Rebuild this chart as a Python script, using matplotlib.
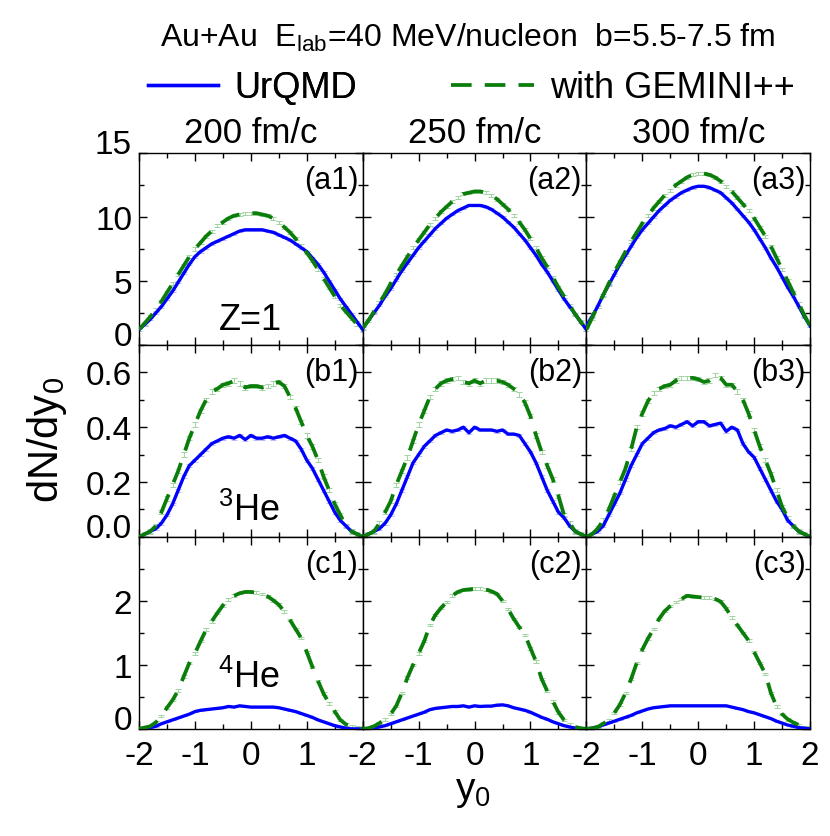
import matplotlib
matplotlib.use("Agg")
import matplotlib.pyplot as plt
from matplotlib.ticker import MultipleLocator, FixedLocator
from matplotlib.lines import Line2D

plt.rcParams['font.family'] = ['Liberation Sans', 'DejaVu Sans']
plt.rcParams['mathtext.fontset'] = 'custom'
plt.rcParams['mathtext.rm'] = 'Liberation Sans'
plt.rcParams['mathtext.it'] = 'Liberation Sans'

y0 = [-2.0, -1.9, -1.8, -1.7, -1.6, -1.5, -1.4, -1.3, -1.2, -1.1, -1.0,
      -0.9, -0.8, -0.7, -0.6, -0.5, -0.4, -0.3, -0.2, -0.1, 0.0,
      0.1, 0.2, 0.3, 0.4, 0.5, 0.6, 0.7, 0.8, 0.9, 1.0,
      1.1, 1.2, 1.3, 1.4, 1.5, 1.6, 1.7, 1.8, 1.9, 2.0]

times = ["200 fm/c", "250 fm/c", "300 fm/c"]
species = ["Z=1", "$^3$He", "$^4$He"]

# Row a: Z=1
a1_urqmd = [1.2, 1.6, 2.0, 2.5, 3.0, 3.6, 4.2, 4.9, 5.6, 6.3, 6.9, 7.3, 7.6, 7.9, 8.1, 8.3, 8.5, 8.7, 8.9, 9.0, 9.0,
            9.0, 9.0, 8.9, 8.8, 8.6, 8.4, 8.2, 7.9, 7.6, 7.3, 6.8, 6.3, 5.7, 5.0, 4.3, 3.6, 3.0, 2.4, 1.8, 1.2]
a1_gemini = [1.2, 1.7, 2.2, 2.8, 3.4, 4.1, 4.8, 5.5, 6.2, 6.9, 7.5, 8.0, 8.5, 8.9, 9.3, 9.6, 9.9, 10.1, 10.2, 10.3, 10.3,
             10.3, 10.2, 10.1, 9.9, 9.6, 9.2, 8.8, 8.3, 7.8, 7.2, 6.6, 5.9, 5.2, 4.5, 3.8, 3.1, 2.6, 2.1, 1.6, 1.1]
a2_urqmd = [1.3, 1.9, 2.5, 3.1, 3.8, 4.4, 5.1, 5.8, 6.4, 7.0, 7.6, 8.1, 8.6, 9.1, 9.5, 9.9, 10.2, 10.5, 10.7, 10.9, 10.9,
            10.9, 10.8, 10.6, 10.3, 10.0, 9.6, 9.2, 8.7, 8.2, 7.6, 7.0, 6.3, 5.7, 5.0, 4.3, 3.6, 3.0, 2.4, 1.8, 1.2]
a2_gemini = [1.3, 1.9, 2.6, 3.3, 4.0, 4.8, 5.5, 6.2, 6.9, 7.6, 8.2, 8.8, 9.4, 9.9, 10.4, 10.8, 11.2, 11.5, 11.8, 11.9, 12.0,
             12.0, 11.9, 11.7, 11.4, 11.0, 10.6, 10.1, 9.6, 9.0, 8.3, 7.6, 6.8, 6.1, 5.3, 4.5, 3.8, 3.1, 2.4, 1.8, 1.2]
a3_urqmd = [1.5, 2.2, 3.0, 3.9, 4.7, 5.5, 6.3, 7.0, 7.7, 8.4, 9.0, 9.5, 10.0, 10.5, 10.9, 11.3, 11.6, 11.9, 12.1, 12.3, 12.4,
            12.4, 12.3, 12.1, 11.9, 11.5, 11.1, 10.6, 10.1, 9.6, 9.0, 8.3, 7.6, 6.8, 6.1, 5.3, 4.5, 3.8, 3.0, 2.2, 1.5]
a3_gemini = [1.2, 2.1, 3.0, 3.9, 4.8, 5.7, 6.5, 7.3, 8.1, 8.8, 9.5, 10.1, 10.7, 11.2, 11.7, 12.1, 12.5, 12.8, 13.1, 13.3, 13.4,
             13.4, 13.3, 13.1, 12.8, 12.4, 12.0, 11.5, 11.0, 10.5, 9.9, 9.2, 8.5, 7.7, 6.8, 5.9, 5.0, 4.1, 3.2, 2.3, 1.5]

# Row b: 3He
b1_urqmd = [0.00, 0.01, 0.02, 0.03, 0.05, 0.08, 0.12, 0.17, 0.22, 0.26, 0.28, 0.30, 0.32, 0.34, 0.35, 0.36, 0.365, 0.36, 0.37, 0.355, 0.37,
            0.36, 0.36, 0.365, 0.36, 0.365, 0.37, 0.36, 0.35, 0.32, 0.28, 0.25, 0.21, 0.17, 0.13, 0.09, 0.06, 0.04, 0.02, 0.01, 0.00]
b1_gemini = [0.00, 0.01, 0.02, 0.04, 0.09, 0.14, 0.19, 0.24, 0.30, 0.36, 0.41, 0.46, 0.50, 0.53, 0.54, 0.555, 0.56, 0.57, 0.56, 0.545, 0.55,
             0.55, 0.545, 0.55, 0.56, 0.565, 0.55, 0.51, 0.47, 0.42, 0.37, 0.33, 0.28, 0.22, 0.17, 0.12, 0.08, 0.04, 0.02, 0.01, 0.00]
b2_urqmd = [0.00, 0.01, 0.02, 0.03, 0.05, 0.08, 0.12, 0.17, 0.22, 0.27, 0.30, 0.33, 0.35, 0.37, 0.38, 0.39, 0.385, 0.39, 0.40, 0.38, 0.40,
            0.39, 0.39, 0.39, 0.385, 0.39, 0.375, 0.375, 0.37, 0.34, 0.31, 0.27, 0.22, 0.17, 0.13, 0.09, 0.07, 0.04, 0.02, 0.01, 0.00]
b2_gemini = [0.00, 0.01, 0.02, 0.05, 0.09, 0.13, 0.19, 0.24, 0.29, 0.35, 0.41, 0.46, 0.51, 0.54, 0.56, 0.57, 0.575, 0.58, 0.565, 0.56, 0.57,
             0.56, 0.57, 0.57, 0.57, 0.565, 0.555, 0.54, 0.52, 0.49, 0.44, 0.37, 0.31, 0.26, 0.21, 0.15, 0.08, 0.05, 0.02, 0.01, 0.00]
b3_urqmd = [0.00, 0.01, 0.02, 0.04, 0.08, 0.12, 0.16, 0.21, 0.26, 0.30, 0.34, 0.36, 0.38, 0.39, 0.395, 0.405, 0.40, 0.41, 0.42, 0.405, 0.42,
            0.42, 0.405, 0.41, 0.415, 0.385, 0.40, 0.39, 0.34, 0.31, 0.29, 0.25, 0.21, 0.17, 0.13, 0.10, 0.06, 0.04, 0.02, 0.01, 0.00]
b3_gemini = [0.00, 0.01, 0.03, 0.06, 0.10, 0.15, 0.20, 0.25, 0.32, 0.40, 0.45, 0.495, 0.525, 0.54, 0.55, 0.555, 0.57, 0.58, 0.58, 0.58, 0.575,
             0.565, 0.57, 0.59, 0.58, 0.555, 0.555, 0.53, 0.50, 0.45, 0.39, 0.33, 0.28, 0.23, 0.17, 0.11, 0.07, 0.04, 0.02, 0.01, 0.00]

# Row c: 4He
c1_urqmd = [0.00, 0.01, 0.02, 0.04, 0.08, 0.11, 0.14, 0.17, 0.20, 0.23, 0.27, 0.29, 0.30, 0.31, 0.32, 0.33, 0.35, 0.34, 0.36, 0.35, 0.34,
            0.34, 0.34, 0.34, 0.34, 0.33, 0.31, 0.29, 0.27, 0.24, 0.21, 0.18, 0.14, 0.11, 0.08, 0.05, 0.03, 0.01, 0.00, 0.00, 0.00]
c1_gemini = [0.00, 0.02, 0.04, 0.10, 0.20, 0.33, 0.45, 0.60, 0.82, 1.03, 1.18, 1.37, 1.55, 1.68, 1.81, 1.93, 2.02, 2.08, 2.12, 2.14, 2.14,
             2.13, 2.11, 2.07, 2.01, 1.94, 1.83, 1.70, 1.56, 1.42, 1.20, 0.97, 0.75, 0.55, 0.40, 0.27, 0.14, 0.07, 0.04, 0.02, 0.00]
c2_urqmd = [0.00, 0.00, 0.01, 0.03, 0.05, 0.08, 0.11, 0.14, 0.17, 0.20, 0.23, 0.26, 0.30, 0.32, 0.33, 0.34, 0.35, 0.35, 0.36, 0.34, 0.36,
            0.35, 0.355, 0.355, 0.37, 0.375, 0.36, 0.33, 0.31, 0.29, 0.26, 0.22, 0.18, 0.15, 0.11, 0.08, 0.05, 0.03, 0.01, 0.00, 0.00]
c2_gemini = [0.00, 0.01, 0.04, 0.09, 0.15, 0.23, 0.36, 0.56, 0.80, 1.00, 1.18, 1.37, 1.62, 1.78, 1.89, 1.98, 2.08, 2.14, 2.17, 2.18, 2.19,
             2.19, 2.18, 2.15, 2.11, 2.00, 1.87, 1.72, 1.59, 1.47, 1.26, 1.05, 0.78, 0.59, 0.43, 0.26, 0.14, 0.07, 0.03, 0.01, 0.00]
c3_urqmd = [0.00, 0.01, 0.03, 0.06, 0.09, 0.12, 0.15, 0.18, 0.21, 0.25, 0.28, 0.31, 0.33, 0.34, 0.35, 0.36, 0.36, 0.36, 0.36, 0.36, 0.36,
            0.36, 0.36, 0.36, 0.36, 0.36, 0.34, 0.32, 0.30, 0.27, 0.25, 0.22, 0.19, 0.16, 0.12, 0.09, 0.06, 0.04, 0.02, 0.01, 0.00]
c3_gemini = [0.00, 0.01, 0.03, 0.08, 0.14, 0.25, 0.38, 0.56, 0.78, 1.03, 1.24, 1.41, 1.56, 1.72, 1.84, 1.92, 1.98, 2.03, 2.08, 2.07, 2.06,
             2.05, 2.05, 2.03, 1.99, 1.88, 1.74, 1.62, 1.50, 1.38, 1.20, 1.03, 0.86, 0.56, 0.35, 0.23, 0.15, 0.10, 0.06, 0.03, 0.02]

urqmd = [[a1_urqmd, a2_urqmd, a3_urqmd], [b1_urqmd, b2_urqmd, b3_urqmd], [c1_urqmd, c2_urqmd, c3_urqmd]]
gemini = [[a1_gemini, a2_gemini, a3_gemini], [b1_gemini, b2_gemini, b3_gemini], [c1_gemini, c2_gemini, c3_gemini]]
gemini_err = [0.12, 0.008, 0.02]
urqmd_err = [0.08, 0.005, 0.005]

ylims = [(0, 15), (0, 0.7), (0, 3)]
ymajor = [[0, 5, 10, 15], [0.0, 0.2, 0.4, 0.6], [0, 1, 2]]
ymajor_labels = [["0", "5", "10", "15"], ["0.0", "0.2", "0.4", "0.6"], ["0", "1", "2"]]
yminor = [2.5, 0.1, 0.5]
xmajor = [-2, -1, 0, 1, 2]
panel_tags = [["(a1)", "(a2)", "(a3)"], ["(b1)", "(b2)", "(b3)"], ["(c1)", "(c2)", "(c3)"]]
species_pos = [(0.50, 0.135), (0.49, 0.14), (0.49, 0.27)]

blue = "#0000ff"
green = "#0a7d0a"

fig = plt.figure(figsize=(8.30, 8.37), dpi=100)
gs = fig.add_gridspec(3, 3, left=0.1675, right=0.976, top=0.816, bottom=0.128, wspace=0, hspace=0)

for r in range(3):
    for c in range(3):
        ax = fig.add_subplot(gs[r, c])
        ax.errorbar(y0, urqmd[r][c], yerr=urqmd_err[r], fmt='none', ecolor='#b0b0ff',
                    elinewidth=0.6, capsize=2, capthick=0.6, zorder=2)
        ax.errorbar(y0, gemini[r][c], yerr=gemini_err[r], fmt='none', ecolor='#9fd49f',
                    elinewidth=0.7, capsize=2.5, capthick=0.7, zorder=2)
        ax.plot(y0, urqmd[r][c], color=blue, lw=2.4, zorder=3)
        ax.plot(y0, gemini[r][c], color=green, lw=2.7, dashes=(5.5, 3.5), zorder=4)
        ax.set_xlim(-2, 2)
        ax.set_ylim(*ylims[r])
        ax.xaxis.set_major_locator(FixedLocator(xmajor))
        ax.xaxis.set_minor_locator(MultipleLocator(0.5))
        ax.yaxis.set_major_locator(FixedLocator(ymajor[r]))
        ax.yaxis.set_minor_locator(MultipleLocator(yminor[r]))
        ax.tick_params(which='both', direction='in', top=True, right=True, labelsize=24, width=1.0)
        ax.tick_params(which='major', length=6)
        ax.tick_params(which='minor', length=3.5)
        ax.tick_params(axis='x', pad=8)
        ax.tick_params(axis='y', pad=5)
        if c == 0:
            ax.set_yticklabels(ymajor_labels[r])
            labs = ax.get_yticklabels()
            # end labels sit just above their tick, as in the reference
            labs[0].set_va('baseline')
            if r == 0:
                labs[-1].set_va('baseline')
        else:
            ax.set_yticklabels([])
        if r == 2:
            if c < 2:
                ax.set_xticklabels(["-2", "-1", "0", "1", ""])
            else:
                ax.set_xticklabels(["-2", "-1", "0", "1", "2"])
        else:
            ax.set_xticklabels([])
        for sp in ax.spines.values():
            sp.set_linewidth(1.0)
        ax.text(0.98, 0.935, panel_tags[r][c], transform=ax.transAxes, ha='right', va='top', fontsize=22)
        if c == 0:
            ax.text(species_pos[r][0], species_pos[r][1], species[r], transform=ax.transAxes,
                    ha='center', va='center', fontsize=26)
        if r == 0:
            ax.set_title(times[c], fontsize=25, pad=8)

fig.text(0.563, 0.955, "Au+Au  E$_{\\mathrm{lab}}$=40 MeV/nucleon  b=5.5-7.5 fm",
         ha='center', va='center', fontsize=23)

# legend row (two entries placed like the reference)
h1 = Line2D([], [], color=blue, lw=2.4)
h2 = Line2D([], [], color=green, lw=2.7, dashes=(5.5, 3.5))
leg1 = fig.legend([h1], ["UrQMD"], loc='center left', bbox_to_anchor=(0.178, 0.894),
                  frameon=False, fontsize=26, handlelength=1.95, handletextpad=0.45,
                  borderpad=0, borderaxespad=0)
fig.add_artist(leg1)
fig.legend([h2], ["with GEMINI++"], loc='center left', bbox_to_anchor=(0.543, 0.894),
           frameon=False, fontsize=26, handlelength=2.3, handletextpad=0.45,
           borderpad=0, borderaxespad=0)

fig.text(0.057, 0.474, "dN/dy$_0$", rotation=90, ha='center', va='center', fontsize=30)
fig.text(0.57, 0.054, "y$_0$", ha='center', va='center', fontsize=28)

fig.savefig("out.png", dpi=100)
